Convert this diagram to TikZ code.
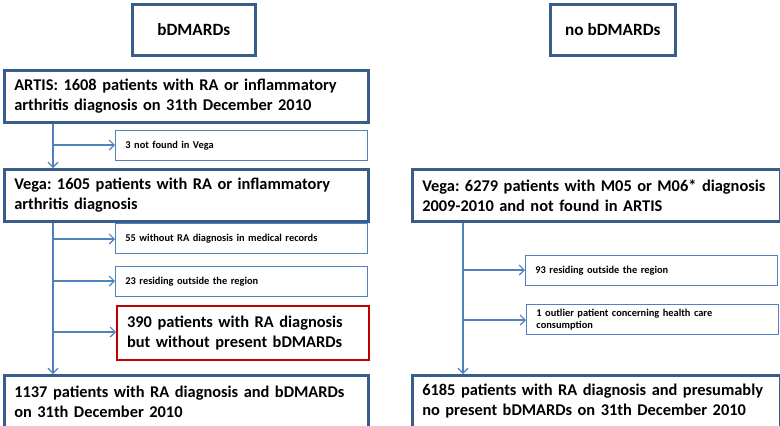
\documentclass[tikz,border=0pt]{standalone}
\usepackage{fontspec}
\setmainfont{Carlito}
\frenchspacing
\usetikzlibrary{arrows.meta}
\definecolor{boxblue}{HTML}{385D8A}
\definecolor{lineblue}{HTML}{4F81BD}
\definecolor{boxred}{HTML}{C00000}
\begin{document}
\begin{tikzpicture}[x=1pt,y=-1pt,
    mainbox/.style={draw=boxblue, line width=2.6pt, anchor=north west, inner xsep=10pt,
        minimum height=52pt, align=left, font=\bfseries\fontsize{16.4}{20}\selectfont},
    sidebox/.style={draw=lineblue, line width=0.9pt, anchor=north west, inner xsep=10pt,
        minimum height=30pt, align=left, font=\bfseries\fontsize{10.4}{12.5}\selectfont},
    headbox/.style={draw=boxblue, line width=2.6pt, anchor=north west, minimum width=123pt,
        minimum height=51pt, font=\bfseries\fontsize{17.2}{20}\selectfont},
    flow/.style={draw=lineblue, line width=1.1pt, -{Straight Barb[length=5pt,width=10pt]}}]
\useasboundingbox (0,0) rectangle (780,426);
\node [headbox] (head1) at (131,3) {bDMARDs};
\node [headbox, minimum width=125pt] (head2) at (549,3) {no bDMARDs};
\node [mainbox, text width=344pt] (artis) at (3,69) {ARTIS: 1608 patients with RA or inflammatory\\arthritis diagnosis on 31th December 2010};
\node [sidebox, text width=232pt] (notfound) at (115,130) {3 not found in Vega};
\node [mainbox, text width=344pt] (vega1) at (3,168) {Vega: 1605 patients with RA or inflammatory\\arthritis diagnosis};
\node [sidebox, text width=232pt] (nora) at (115,223) {55 without RA diagnosis in medical records};
\node [sidebox, text width=232pt] (outside1) at (115,266) {23 residing outside the region};
\node [mainbox, draw=boxred, line width=2.2pt, text width=232pt, minimum height=54pt] (nobio) at (116,305) {390 patients with RA diagnosis\\but without present bDMARDs};
\node [mainbox, text width=344pt] (final1) at (3,374) {1137 patients with RA diagnosis and bDMARDs\\on 31th December 2010};
\node [mainbox, text width=348pt] (vega2) at (411,168) {Vega: 6279 patients with M05 or M06* diagnosis\\2009-2010 and not found in ARTIS};
\node [sidebox, text width=232pt] (outside2) at (525,255) {93 residing outside the region};
\node [sidebox, text width=232pt, inner ysep=2pt] (outlier) at (526,304) {1 outlier patient concerning health care\\consumption};
\node [mainbox, text width=348pt] (final2) at (411,374) {6185 patients with RA diagnosis and presumably\\no present bDMARDs on 31th December 2010};
\coordinate (b1) at (53,145);
\coordinate (b2) at (53,239);
\coordinate (b3) at (53,281);
\coordinate (b4) at (53,332);
\coordinate (b5) at (463,270);
\coordinate (b6) at (463,320);
\draw [flow] (artis.south -| b1) -- (vega1.north -| b1);
\draw [flow] (b1) -- (notfound.west |- b1);
\draw [flow] (vega1.south -| b2) -- (final1.north -| b2);
\draw [flow] (b2) -- (nora.west |- b2);
\draw [flow] (b3) -- (outside1.west |- b3);
\draw [flow] (b4) -- (nobio.west |- b4);
\draw [flow] (vega2.south -| b5) -- (final2.north -| b5);
\draw [flow] (b5) -- (outside2.west |- b5);
\draw [flow] (b6) -- (outlier.west |- b6);
\end{tikzpicture}
\end{document}
